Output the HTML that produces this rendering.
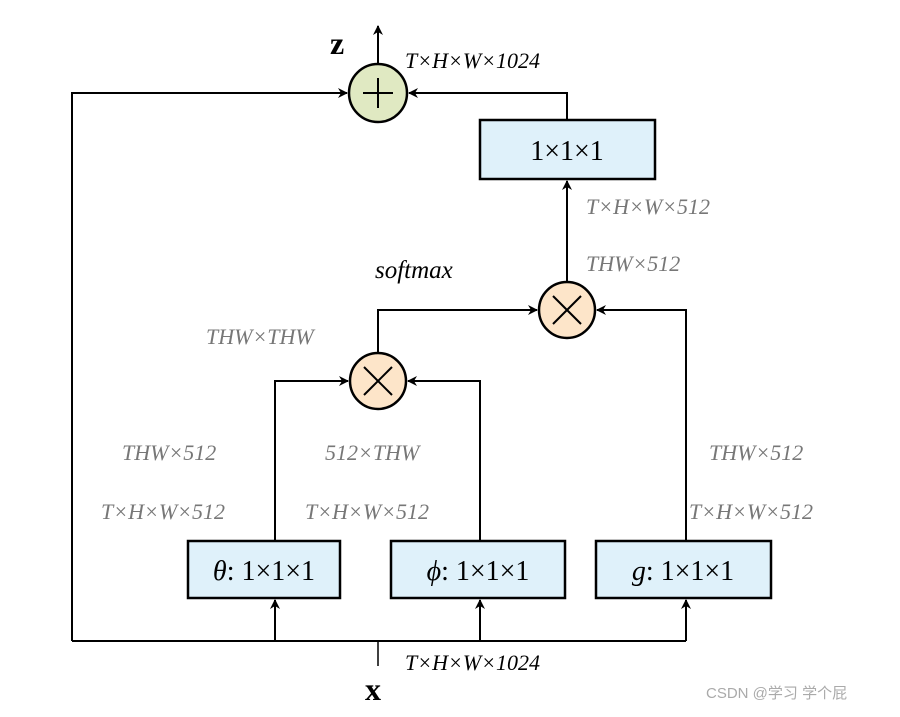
<!DOCTYPE html>
<html><head><style>body{margin:0;background:#fff}</style></head><body>
<svg width="900" height="712" xmlns="http://www.w3.org/2000/svg" font-family="Liberation Serif, serif">
<defs><marker id="a" markerWidth="10" markerHeight="10" refX="9" refY="5" orient="auto" markerUnits="userSpaceOnUse"><path d="M0,0 L10,5 L0,10 L3,5 z" fill="#000"/></marker></defs>
<g stroke="#000" stroke-width="2" fill="none">
<polyline points="72,641 72,93 347,93" marker-end="url(#a)"/>
<line x1="72" y1="641" x2="686" y2="641"/>
<line x1="378" y1="641" x2="378" y2="666" stroke-width="1.5"/>
<line x1="275" y1="641" x2="275" y2="600" marker-end="url(#a)"/>
<line x1="480" y1="641" x2="480" y2="600" marker-end="url(#a)"/>
<line x1="686" y1="641" x2="686" y2="600" marker-end="url(#a)"/>
<polyline points="275,541 275,381 348,381" marker-end="url(#a)"/>
<polyline points="480,541 480,381 408,381" marker-end="url(#a)"/>
<polyline points="686,571 686,310 597,310" marker-end="url(#a)"/>
<polyline points="378,352 378,310 537,310" marker-end="url(#a)"/>
<line x1="567" y1="281" x2="567" y2="181" marker-end="url(#a)"/>
<polyline points="567,119 567,93 409,93" marker-end="url(#a)"/>
<line x1="378" y1="64" x2="378" y2="26" marker-end="url(#a)"/>
</g>
<g stroke="#000" stroke-width="2.5">
<rect x="480" y="120" width="175" height="59" fill="#dff1fa"/>
<rect x="188" y="541" width="152" height="57" fill="#dff1fa"/>
<rect x="391" y="541" width="174" height="57" fill="#dff1fa"/>
<rect x="596" y="541" width="175" height="57" fill="#dff1fa"/>
<circle cx="378" cy="93" r="29" fill="#e0e9c2"/>
<circle cx="378" cy="381" r="28" fill="#fde5c9"/>
<circle cx="567" cy="310" r="28" fill="#fde5c9"/>
</g>
<g stroke="#000" stroke-width="2">
<line x1="363" y1="93" x2="393" y2="93"/><line x1="378" y1="78" x2="378" y2="108"/>
<line x1="364" y1="367" x2="392" y2="395"/><line x1="392" y1="367" x2="364" y2="395"/>
<line x1="553" y1="296" x2="581" y2="324"/><line x1="581" y1="296" x2="553" y2="324"/>
</g>
<g font-size="28" text-anchor="middle">
<text x="567" y="160">1×1×1</text>
<text x="264" y="580"><tspan font-style="italic">θ</tspan>: 1×1×1</text>
<text x="478" y="580"><tspan font-style="italic">ϕ</tspan>: 1×1×1</text>
<text x="683" y="580"><tspan font-style="italic">g</tspan>: 1×1×1</text>
</g>
<text x="330" y="54" font-size="32" font-weight="bold">z</text>
<text x="365" y="700" font-size="32" font-weight="bold">x</text>
<g font-size="22" font-style="italic">
<text x="405" y="68">T×H×W×1024</text>
<text x="405" y="670">T×H×W×1024</text>
<text x="375" y="278" font-size="25">softmax</text>
</g>
<g font-size="22" font-style="italic" fill="#777">
<text x="586" y="214">T×H×W×512</text>
<text x="586" y="271">THW×512</text>
<text x="206" y="344">THW×THW</text>
<text x="122" y="460">THW×512</text>
<text x="325" y="460">512×THW</text>
<text x="709" y="460">THW×512</text>
<text x="101" y="519">T×H×W×512</text>
<text x="305" y="519">T×H×W×512</text>
<text x="689" y="519">T×H×W×512</text>
</g>
<text x="706" y="698" font-size="15" fill="#aaa" font-family="Liberation Sans, Noto Sans CJK SC, sans-serif">CSDN @学习 学个屁</text>
</svg>
</body></html>
